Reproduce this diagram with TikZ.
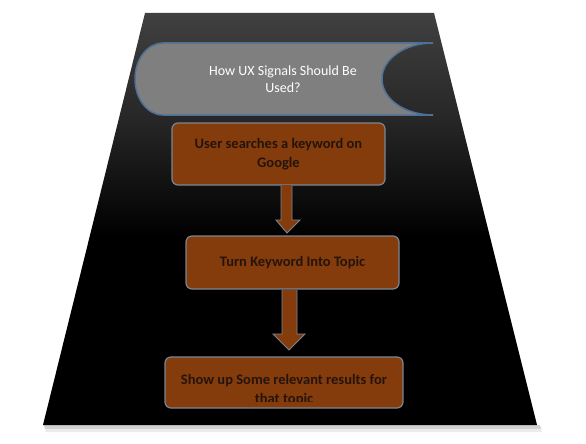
\documentclass[tikz,border=0pt]{standalone}
\usepackage{fontspec}
\setmainfont{Carlito}
\usetikzlibrary{calc}
\definecolor{trapTop}{HTML}{404040}
\definecolor{bannerFill}{HTML}{7F7F7F}
\definecolor{bannerEdge}{HTML}{4E7096}
\definecolor{boxFill}{HTML}{843C0C}
\definecolor{boxEdge}{HTML}{7A8594}
\definecolor{boxText}{HTML}{26140A}
\pgfdeclareverticalshading{trapshade}{100bp}{color(0bp)=(black); color(48bp)=(black); color(62bp)=(trapTop!60!black); color(75bp)=(trapTop); color(100bp)=(trapTop)}
\tikzset{
  stepbox/.style={draw=boxEdge, line width=1.2pt, fill=boxFill, rounded corners=6pt, inner sep=0pt},
  steptext/.style={text=boxText, font=\fontsize{14.5}{19}\selectfont\bfseries, align=center},
  titletext/.style={text=white, font=\fontsize{14}{17}\selectfont, align=center},
  blockarrow/.style={draw=boxEdge, line width=0.9pt, fill=boxFill, line join=miter},
}
\begin{document}
\begin{tikzpicture}[x=1pt,y=-1pt]
\useasboundingbox (0,0) rectangle (586,444);
% shadow
\fill[black!18] (44,425) -- (540,425) -- (541,429) -- (45,429) -- cycle;
\fill[black!8] (45,429) -- (541,429) -- (542,432) -- (46,432) -- cycle;
% trapezoid
\coordinate (tl) at (145,13);
\coordinate (tr) at (434,13);
\coordinate (br) at (537,425);
\coordinate (bl) at (43,425);
\shade[shading=trapshade] (tl) -- (tr) -- (br) -- (bl) -- cycle;
% banner
\draw[fill=bannerFill, draw=bannerEdge, line width=1.5pt]
  (163,43) -- (433,43)
  .. controls (404.8,43) and (382,59.1) .. (382,79)
  .. controls (382,98.9) and (404.8,115) .. (433,115)
  -- (163,115)
  .. controls (147.5,115) and (135,98.9) .. (135,79)
  .. controls (135,59.1) and (147.5,43) .. (163,43) -- cycle;
\node[titletext] (title) at (283,79) {How UX Signals Should Be\\Used?};
% boxes
\node[stepbox, minimum width=213pt, minimum height=62pt] (b1) at (278.5,154) {};
\node[steptext] (t1) at (b1.center) {User searches a keyword on\\Google};
\node[stepbox, minimum width=213pt, minimum height=53pt] (b2) at (292.5,262.5) {};
\node[steptext] (t2) at (b2.center) {Turn Keyword Into Topic};
\node[stepbox, minimum width=238pt, minimum height=51pt] (b3) at (284,382.5) {};
\begin{scope}
  \clip ([xshift=2pt,yshift=7pt]b3.south west) rectangle ([xshift=-2pt,yshift=-2pt]b3.north east);
  \node[steptext] (t3) at ($(b3.center)+(0,8)$) {Show up Some relevant results for\\that topic};
\end{scope}
% arrows
\draw[blockarrow] (281,185) -- (281,220) -- (276,220) -- (287,233) -- (300,220) -- (292,220) -- (292,185);
\draw[blockarrow] (282,290) -- (282,334) -- (273,334) -- (289,350) -- (305,334) -- (297,334) -- (297,290);
\end{tikzpicture}
\end{document}
